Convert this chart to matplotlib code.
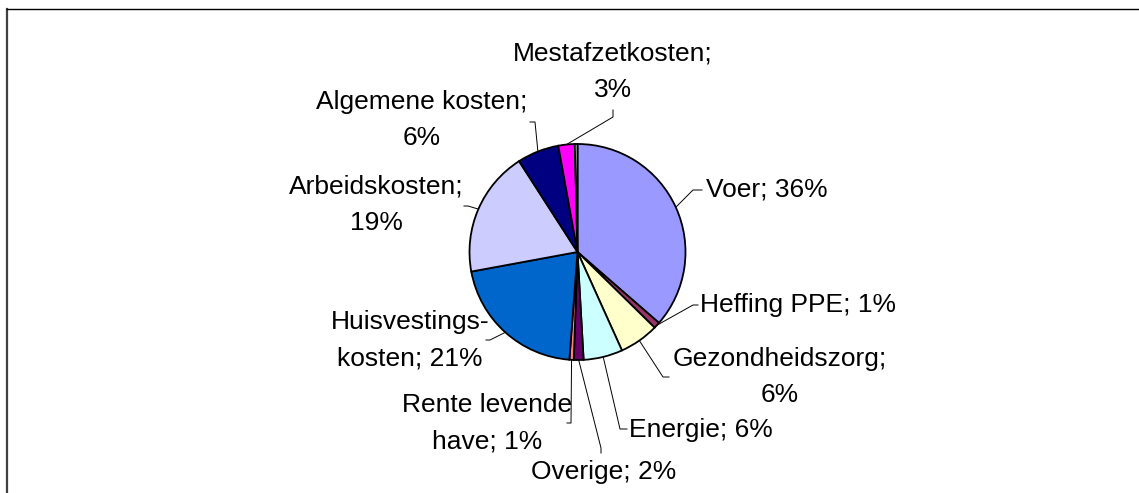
import matplotlib
matplotlib.use("Agg")
import matplotlib.pyplot as plt
from matplotlib.lines import Line2D
import numpy as np

plt.rcParams['font.family'] = ['Liberation Sans', 'DejaVu Sans']

# data (share of total costs, in %)
categories = ['Voer', 'Heffing PPE', 'Gezondheidszorg', 'Energie', 'Overige',
              'Rente levende have', 'Huisvestingskosten', 'Arbeidskosten',
              'Algemene kosten', 'Mestafzetkosten', 'Overig klein']
values = [36.4, 0.95, 5.9, 5.85, 1.45, 0.65, 20.9, 18.8, 6.25, 2.45, 0.4]
label_texts = ['Voer; 36%', 'Heffing PPE; 1%', 'Gezondheidszorg;\n6%', 'Energie; 6%',
               'Overige; 2%', 'Rente levende\nhave; 1%', 'Huisvestings-\nkosten; 21%',
               'Arbeidskosten;\n19%', 'Algemene kosten;\n6%', 'Mestafzetkosten;\n3%', None]
colors = ['#9999FF', '#993366', '#FFFFCC', '#CCFFFF', '#660066', '#FF8080',
          '#0066CC', '#CCCCFF', '#000080', '#FF00FF', '#D8D8D8']

# layout (pixel positions)
W, H = 1139, 493
cx, cy, R = 577.5, 252, 108
text_pos = [(767, 190), (798, 305), (780, 377), (701, 430), (604, 472),
            (487, 423), (410, 340), (376, 205), (422, 120), (613, 72), None]
leader_pts = [[(693, 190), (702, 190)],
              [(693, 305), (698, 305)],
              [(663, 377), (669, 377)],
              [(620, 429), (627, 429)],
              [(601, 448), (601, 453)],
              [(571, 423), (567, 423)],
              [(490, 340), (486, 340)],
              [(468, 206), (464, 206)],
              [(535, 122), (530, 122)],
              [(613, 117), (613, 110)],
              None]


def px(p):
    return ((p[0] - cx) / R, (cy - p[1]) / R)


fig = plt.figure(figsize=(W / 100, H / 100), dpi=100)
ax = fig.add_axes([0, 0, 1, 1])

wedges, _ = ax.pie(values, colors=colors, startangle=90, counterclock=False,
                   radius=1, center=(0, 0), frame=True,
                   wedgeprops=dict(edgecolor='black', linewidth=1.3))
ax.set_xlim(-cx / R, (W - cx) / R)
ax.set_ylim(-(H - cy) / R, cy / R)
ax.set_aspect('equal')
ax.axis('off')

for w, txt, tp, lp in zip(wedges, label_texts, text_pos, leader_pts):
    if txt is None:
        continue
    mid = np.deg2rad((w.theta1 + w.theta2) / 2)
    start = (np.cos(mid), np.sin(mid))
    pts = [start] + [px(p) for p in lp]
    xs, ys = zip(*pts)
    ax.plot(xs, ys, color='black', lw=0.7)
    tx, ty = px(tp)
    ax.text(tx, ty, txt, ha='center', va='center', fontsize=19,
            linespacing=1.65, multialignment='center')

# chart area border (cut off at right and bottom)
fig.add_artist(Line2D([6.5 / W, 6.5 / W], [0, 1 - 9 / H], color='#404040', lw=1.6))
fig.add_artist(Line2D([6.5 / W, 1], [1 - 9 / H, 1 - 9 / H], color='black', lw=1.0))

fig.savefig('out.png', dpi=100)
